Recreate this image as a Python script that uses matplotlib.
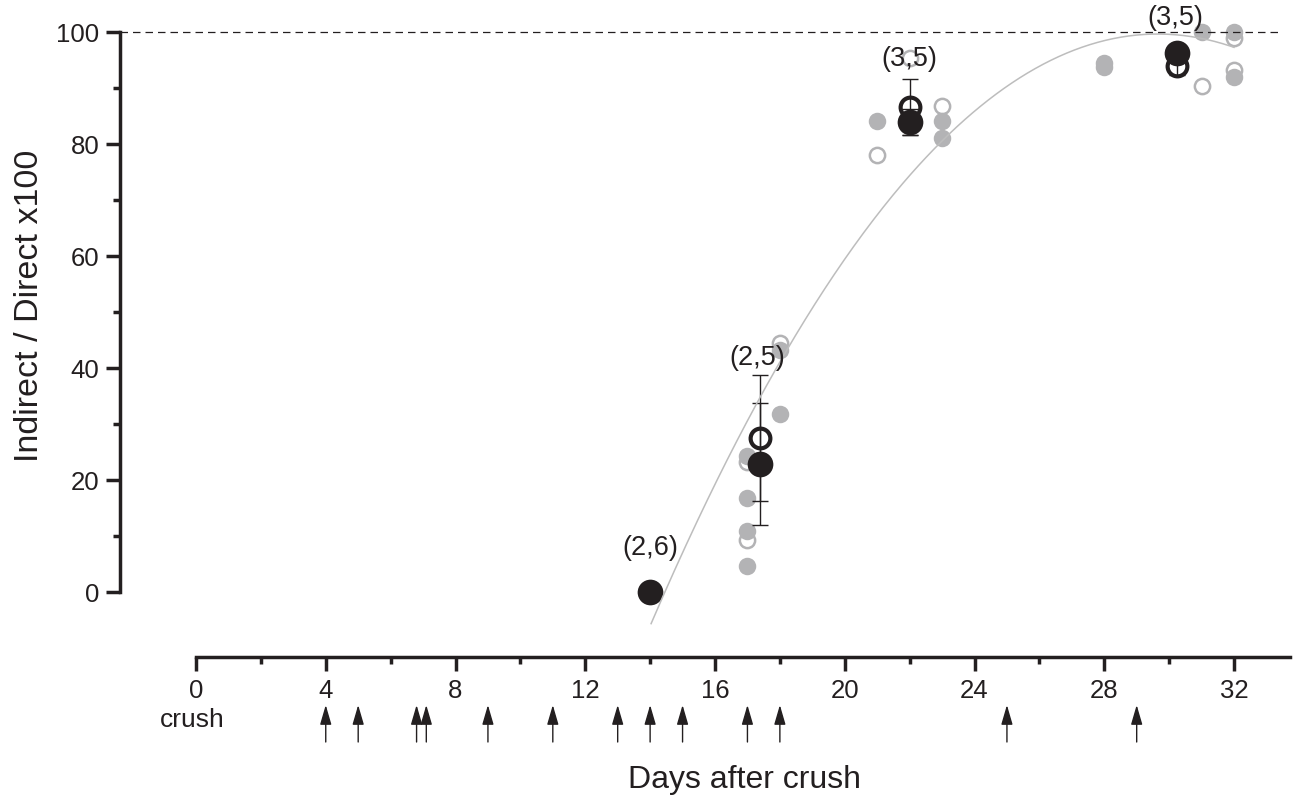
import numpy as np
import matplotlib
matplotlib.use("Agg")
import matplotlib.pyplot as plt
from matplotlib.ticker import MultipleLocator

plt.rcParams['font.family'] = ['Liberation Sans', 'DejaVu Sans']

# ---------------- data ----------------
crush_days = [4, 5, 6.8, 7.1, 9, 11, 13, 14, 15, 17, 18, 25, 29]

gray_open_x = [17, 17, 18, 21, 22, 23, 31, 32, 32]
gray_open_y = [9.3, 23.2, 44.5, 78.0, 95.3, 86.8, 90.3, 98.9, 93.2]

gray_filled_x = [17, 17, 17, 17, 18, 18, 21, 23, 23, 28, 28, 31, 32, 32]
gray_filled_y = [4.6, 10.9, 16.7, 24.3, 31.8, 43.2, 84.1, 84.1, 81.1, 94.4, 93.7, 100, 100, 92.0]

mean_filled_x = [14.0, 17.4, 22.0, 30.25]
mean_filled_y = [0.0, 22.8, 83.9, 96.2]
mean_filled_err = [0.0, 10.9, 2.3, 1.5]

mean_open_x = [17.4, 22.0, 30.25]
mean_open_y = [27.5, 86.6, 93.9]
mean_open_err = [11.3, 5.0, 1.5]

group_labels = ['(2,6)', '(2,5)', '(3,5)', '(3,5)']
group_label_x = [14.0, 17.3, 22.0, 30.2]
group_label_y = [7.9, 41.8, 95.2, 102.5]

# points
curve_x = [14.03, 17.39, 17.94, 22.84, 23.86, 27.25, 29.6, 31.9]
curve_y = [-5.0, 33.8, 40.2, 79.5, 86.0, 97.3, 99.5, 97.3]

xticks_major = [0, 4, 8, 12, 16, 20, 24, 28, 32]
xticks_minor = [2, 6, 10, 14, 18, 22, 26, 30]
yticks_major = [0, 20, 40, 60, 80, 100]
yticks_minor = [10, 30, 50, 70, 90]

# ---------------- figure ----------------
W, H = 1293, 799
fig = plt.figure(figsize=(W / 100, H / 100), dpi=100)
ax = fig.add_axes([120 / W, 1 - 657 / H, 1170 / W, 637 / H])

px_per_x = (1234 - 196) / 32.0
px_per_y = (592 - 32) / 100.0
ax.set_xlim((120 - 196) / px_per_x, (1290 - 196) / px_per_x)
ax.set_ylim((592 - 657) / px_per_y, (592 - 20) / px_per_y)

black = '#231f20'
gray = '#b3b3b5'

# gray individual points
ax.plot(gray_open_x, gray_open_y, 'o', ms=11.0, mfc='white', mec=gray, mew=1.8,
        zorder=2, clip_on=False)
ax.plot(gray_filled_x, gray_filled_y, 'o', ms=12.6, mfc=gray, mec='none',
        zorder=3, clip_on=False)

# means with error bars
ax.errorbar(mean_open_x, mean_open_y, yerr=mean_open_err, fmt='none',
            ecolor=black, elinewidth=1.0, capsize=6, capthick=1.0, zorder=4,
            clip_on=False)
ax.errorbar(mean_filled_x, mean_filled_y, yerr=mean_filled_err, fmt='none',
            ecolor=black, elinewidth=1.0, capsize=6, capthick=1.0, zorder=4,
            clip_on=False)
ax.plot(mean_open_x, mean_open_y, 'o', ms=14.2, mfc='none', mec=black, mew=3.0,
        zorder=4.5, clip_on=False)
ax.plot(mean_filled_x, mean_filled_y, 'o', ms=18.5, mfc=black, mec='none',
        zorder=5, clip_on=False)

# fitted curve
coef = np.polyfit(curve_x, curve_y, 2)
xx = np.linspace(min(curve_x), 32.0, 300)
ax.plot(xx, np.polyval(coef, xx), color='#bdbdbd', lw=1.1, zorder=6)

# 100 % reference line
ax.hlines(100, ax.get_xlim()[0], (1280 - 196) / px_per_x, colors=black,
          linestyles=(0, (6, 4)), lw=0.9, zorder=7)

# group labels
for lab, lx, ly in zip(group_labels, group_label_x, group_label_y):
    ax.text(lx, ly, lab, ha='center', va='center', fontsize=19.5, color=black,
            zorder=8, clip_on=False)

# spines / ticks
for s in ['top', 'right']:
    ax.spines[s].set_visible(False)
ax.spines['left'].set_bounds(0, 100)
ax.spines['bottom'].set_bounds(0, ax.get_xlim()[1])
for s in ['left', 'bottom']:
    ax.spines[s].set_linewidth(2.5)
    ax.spines[s].set_color(black)

ax.set_xticks(xticks_major)
ax.set_xticks(xticks_minor, minor=True)
ax.set_yticks(yticks_major)
ax.set_yticks(yticks_minor, minor=True)
ax.tick_params(which='major', length=10, width=2.5, color=black,
               labelsize=18.5, labelcolor=black)
ax.tick_params(which='minor', length=5, width=2.5, color=black)
ax.tick_params(axis='x', which='major', pad=6)
ax.tick_params(axis='y', which='major', pad=5)

# crush arrows
tip_y = (592 - 705) / px_per_y
tail_y = (592 - 742) / px_per_y
for d in crush_days:
    ax.annotate('', xy=(d, tip_y), xytext=(d, tail_y), xycoords='data',
                annotation_clip=False,
                arrowprops=dict(arrowstyle='-|>,head_length=1.2,head_width=0.35',
                                color=black, lw=1.0, shrinkA=0, shrinkB=0,
                                mutation_scale=10))
ax.text(-0.12, (592 - 720) / px_per_y, 'crush', ha='center', va='center',
        fontsize=19, color=black, clip_on=False)

# axis labels
fig.text(30 / W, 1 - 306 / H, 'Indirect / Direct x100', rotation=90,
         ha='center', va='center', fontsize=24.5, color=black)
fig.text(745 / W, 1 - 780 / H, 'Days after crush', ha='center', va='center',
         fontsize=23, color=black)

fig.savefig('out.png', dpi=100)
